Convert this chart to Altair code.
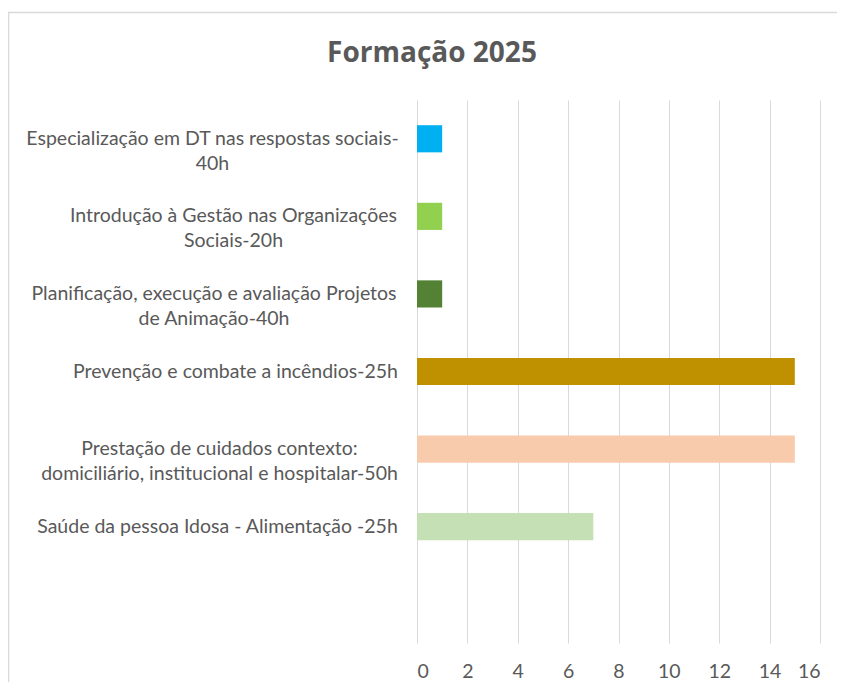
import altair as alt
import pandas as pd

# Data
courses = [
    "Especialização em DT nas respostas sociais-|40h",
    "Introdução à Gestão nas Organizações|Sociais-20h",
    "Planificação, execução e avaliação Projetos|de Animação-40h",
    "Prevenção e combate a incêndios-25h",
    "Prestação de cuidados contexto:|domiciliário, institucional e hospitalar-50h",
    "Saúde da pessoa Idosa - Alimentação -25h",
]
participants = [1, 1, 1, 15, 15, 7]
bar_colors = ["#00B0F0", "#92D050", "#548235", "#BF9000", "#F8CBAD", "#C5E0B4"]
x_ticks = [0, 2, 4, 6, 8, 10, 12, 14, 16]
empty_slot = [""]
title_text = "Formação 2025"

df = pd.DataFrame({"course": courses, "value": participants})
y_domain = courses + empty_slot

FONT = "Lato"
GRAY = "#595959"
LABEL_SIZE = 19.5

# Layout: distance from axis to the centre of each (centred) label block
label_pad = [205, 184, 203.5, 182, 198, 200]
pad_conditions = [
    {"test": "datum.value == '%s'" % c, "value": p} for c, p in zip(courses, label_pad)
]

bars = alt.Chart(df).mark_bar().encode(
    x=alt.X(
        "value:Q",
        scale=alt.Scale(domain=[0, 16], nice=False),
        axis=alt.Axis(
            values=x_ticks, title=None, domain=False, ticks=False, grid=True,
            gridColor="#D9D9D9", gridWidth=1, labelColor=GRAY, labelFont=FONT,
            labelFontSize=LABEL_SIZE, labelPadding=19,
        ),
    ),
    y=alt.Y(
        "course:N",
        sort=y_domain,
        scale=alt.Scale(domain=y_domain, paddingInner=0.65, paddingOuter=0.325),
        axis=alt.Axis(
            title=None, domain=False, ticks=False,
            labelExpr="split(datum.label, '|')",
            labelAlign="center", labelBaseline="middle",
            labelPadding={"condition": pad_conditions, "value": 20},
            labelLineHeight=25, labelFontSize=LABEL_SIZE, labelColor=GRAY,
            labelFont=FONT, labelLimit=0,
        ),
    ),
    color=alt.Color("course:N", scale=alt.Scale(domain=courses, range=bar_colors), legend=None),
)

frame = alt.Chart(pd.DataFrame({"k": [0]})).mark_rect(
    filled=False, stroke="#D9D9D9", strokeWidth=1.5
).encode(
    x=alt.value(-408.5), y=alt.value(-87.5), x2=alt.value(1000), y2=alt.value(1000)
)

title = alt.Chart(pd.DataFrame({"t": [title_text]})).mark_text(
    font="Open Sans", fontSize=28, fontWeight="bold", color=GRAY,
    align="center", baseline="alphabetic"
).encode(text="t:N", x=alt.value(15), y=alt.value(-38))

chart = alt.layer(frame, bars, title).properties(
    width=403,
    height=543,
    autosize=alt.AutoSizeParams(type="none"),
    padding={"left": 409, "top": 92, "right": 17, "bottom": 39},
).configure_view(stroke="transparent")

chart.save("out.html", embed_options={"renderer": "svg", "actions": False})
